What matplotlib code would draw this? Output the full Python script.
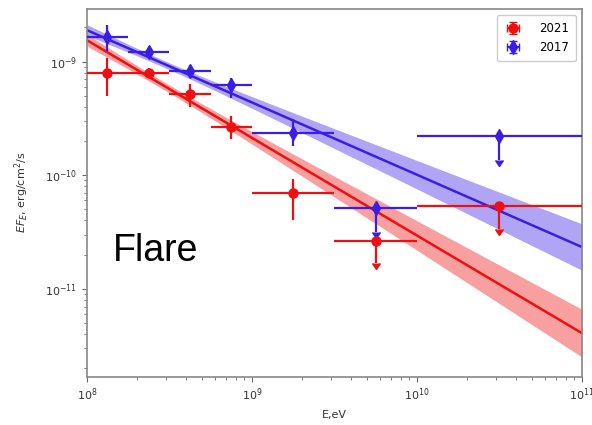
import numpy as np
import matplotlib.pyplot as plt

# energy bins (eV)
e_center = [1.33e8, 2.37e8, 4.22e8, 7.5e8, 1.78e9, 5.62e9, 3.16e10]
e_lo = [1.0e8, 1.78e8, 3.16e8, 5.62e8, 1.0e9, 3.16e9, 1.0e10]
e_hi = [1.78e8, 3.16e8, 5.62e8, 1.0e9, 3.16e9, 1.0e10, 1.0e11]

# 2021 flare SED
flux_2021 = [7.9e-10, 8.0e-10, 5.2e-10, 2.65e-10, 7.0e-11, 2.65e-11, 5.37e-11]
flux_2021_lo = [5.0e-10, 7.2e-10, 4.0e-10, 2.1e-10, 4.0e-11, 1.7e-11, 3.4e-11]
flux_2021_hi = [1.07e-9, 8.8e-10, 6.4e-10, 3.3e-10, 9.2e-11, 2.65e-11, 5.37e-11]
ul_2021 = [False, False, False, False, False, True, True]

# 2017 flare SED
flux_2017 = [1.64e-9, 1.21e-9, 8.2e-10, 6.2e-10, 2.35e-10, 5.15e-11, 2.2e-10]
flux_2017_lo = [1.25e-9, 1.09e-9, 7.2e-10, 4.8e-10, 1.8e-10, 3.2e-11, 1.35e-10]
flux_2017_hi = [2.1e-9, 1.33e-9, 9.3e-10, 7.2e-10, 3.1e-10, 5.15e-11, 2.2e-10]
ul_2017 = [False, False, False, False, False, True, True]

# power-law fits: EF_E at pivot, photon index, norm err (dex), index err
pivot = 3e8
fit_2021 = dict(norm=6.0e-10, index=2.859, dnorm=0.035, dindex=0.082)
fit_2017 = dict(norm=9.4e-10, index=2.636, dnorm=0.03, dindex=0.08)

RED = '#ee1010'
BLUE = '#3a1ee6'


def draw_fit(ax, fit, color):
    e = np.logspace(8, 11, 200)
    x = np.log10(e / pivot)
    logf = np.log10(fit['norm']) + (2 - fit['index']) * x
    hw = np.sqrt(fit['dnorm'] ** 2 + (fit['dindex'] * x) ** 2)
    ax.fill_between(e, 10 ** (logf - hw), 10 ** (logf + hw), color=color,
                    alpha=0.4, lw=0, zorder=1)
    ax.plot(e, 10 ** logf, color=color, lw=1.8, zorder=2)


def draw_points(ax, flux, lo, hi, ul, color, marker, ms, label):
    f = np.array(flux)
    ul = np.array(ul)
    yerr_lo = f - np.array(lo)
    yerr_hi = np.array(hi) - f
    ec = np.array(e_center)
    xerr = [ec - np.array(e_lo), np.array(e_hi) - ec]
    ax.errorbar(ec, f, xerr=xerr, yerr=[yerr_lo, yerr_hi], uplims=ul,
                fmt=marker, color=color, ms=ms, elinewidth=1.6,
                capsize=0, label=label, zorder=3)


fig = plt.figure(figsize=(5.92, 4.25), dpi=100)
ax = fig.add_axes([0.147, 0.1137, 0.836, 0.865])

draw_fit(ax, fit_2017, BLUE)
draw_fit(ax, fit_2021, RED)
draw_points(ax, flux_2021, flux_2021_lo, flux_2021_hi, ul_2021, RED, 'o', 6.5, '2021')
draw_points(ax, flux_2017, flux_2017_lo, flux_2017_hi, ul_2017, BLUE, 'd', 7.5, '2017')

ax.set_xscale('log')
ax.set_yscale('log')
ax.set_xlim(1e8, 1e11)
ax.set_ylim(1.69e-12, 2.9e-9)

for s in ax.spines.values():
    s.set_color('#888888')
    s.set_linewidth(1.2)
ax.tick_params(which='both', colors='#666666', labelcolor='#333333', labelsize=8)

ax.set_xlabel('E,eV', fontsize=8, color='#333333', labelpad=5)
ax.set_ylabel('$EF_E$, erg/cm$^2$/s', fontsize=8, color='#333333', labelpad=10)

ax.text(0.053, 0.315, 'Flare', transform=ax.transAxes, fontsize=27,
        family='Liberation Sans', va='baseline', ha='left')

ax.legend(loc='upper right', fontsize=8.5, handlelength=1.6, handletextpad=1.4,
          borderpad=0.6, framealpha=1)

fig.savefig('out.png', dpi=100)
